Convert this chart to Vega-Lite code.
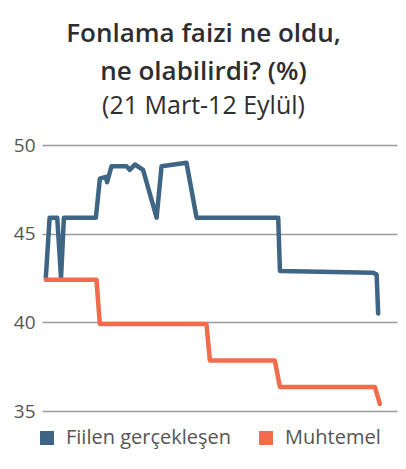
{
  "$schema": "https://vega.github.io/schema/vega-lite/v6.json",
  "width": 355,
  "height": 266,
  "autosize": "none",
  "padding": {"left": 42, "top": 145, "right": 9, "bottom": 58},
  "background": "white",
  "title": {
    "text": ["Fonlama faizi ne oldu,", "ne olabilirdi? (%)"],
    "subtitle": "(21 Mart-12 Eylül)",
    "anchor": "middle",
    "dx": -16,
    "offset": 17,
    "font": "Open Sans",
    "fontSize": 26,
    "fontWeight": 600,
    "color": "#2e2e2e",
    "lineHeight": 38,
    "subtitleFont": "Open Sans",
    "subtitleFontSize": 25,
    "subtitleFontWeight": "normal",
    "subtitleColor": "#2e2e2e",
    "subtitleLineHeight": 30,
    "subtitlePadding": 9
  },
  "data": {
    "values": [
      {"gun": 0, "oran": 42.5, "seri": "Fiilen gerçekleşen"},
      {"gun": 2, "oran": 45.9, "seri": "Fiilen gerçekleşen"},
      {"gun": 6, "oran": 45.9, "seri": "Fiilen gerçekleşen"},
      {"gun": 8, "oran": 42.5, "seri": "Fiilen gerçekleşen"},
      {"gun": 9.5, "oran": 45.9, "seri": "Fiilen gerçekleşen"},
      {"gun": 26.3, "oran": 45.9, "seri": "Fiilen gerçekleşen"},
      {"gun": 28.4, "oran": 48.1, "seri": "Fiilen gerçekleşen"},
      {"gun": 31.5, "oran": 48.2, "seri": "Fiilen gerçekleşen"},
      {"gun": 32.2, "oran": 47.9, "seri": "Fiilen gerçekleşen"},
      {"gun": 34.5, "oran": 48.8, "seri": "Fiilen gerçekleşen"},
      {"gun": 42.4, "oran": 48.8, "seri": "Fiilen gerçekleşen"},
      {"gun": 44.1, "oran": 48.6, "seri": "Fiilen gerçekleşen"},
      {"gun": 46.8, "oran": 48.9, "seri": "Fiilen gerçekleşen"},
      {"gun": 51.1, "oran": 48.6, "seri": "Fiilen gerçekleşen"},
      {"gun": 58.2, "oran": 45.9, "seri": "Fiilen gerçekleşen"},
      {"gun": 60.8, "oran": 48.8, "seri": "Fiilen gerçekleşen"},
      {"gun": 73.9, "oran": 49.0, "seri": "Fiilen gerçekleşen"},
      {"gun": 79.2, "oran": 45.9, "seri": "Fiilen gerçekleşen"},
      {"gun": 122.1, "oran": 45.9, "seri": "Fiilen gerçekleşen"},
      {"gun": 123, "oran": 42.9, "seri": "Fiilen gerçekleşen"},
      {"gun": 172, "oran": 42.8, "seri": "Fiilen gerçekleşen"},
      {"gun": 173.8, "oran": 42.7, "seri": "Fiilen gerçekleşen"},
      {"gun": 174.6, "oran": 40.5, "seri": "Fiilen gerçekleşen"},
      {"gun": 0, "oran": 42.4, "seri": "Muhtemel"},
      {"gun": 26.6, "oran": 42.4, "seri": "Muhtemel"},
      {"gun": 28.4, "oran": 39.9, "seri": "Muhtemel"},
      {"gun": 84.4, "oran": 39.9, "seri": "Muhtemel"},
      {"gun": 86.2, "oran": 37.85, "seri": "Muhtemel"},
      {"gun": 120.3, "oran": 37.85, "seri": "Muhtemel"},
      {"gun": 123, "oran": 36.35, "seri": "Muhtemel"},
      {"gun": 172.9, "oran": 36.35, "seri": "Muhtemel"},
      {"gun": 175.5, "oran": 35.4, "seri": "Muhtemel"}
    ]
  },
  "mark": {"type": "line", "strokeWidth": 4.5, "strokeJoin": "round", "strokeCap": "round"},
  "encoding": {
    "x": {
      "field": "gun",
      "type": "quantitative",
      "scale": {"domain": [-2, 184.5], "nice": false, "zero": false},
      "axis": null
    },
    "y": {
      "field": "oran",
      "type": "quantitative",
      "scale": {"domain": [35, 50], "nice": false, "zero": false},
      "axis": {
        "values": [35, 40, 45, 50],
        "title": null,
        "domain": false,
        "ticks": false,
        "grid": true,
        "gridColor": "#9a9a9a",
        "gridWidth": 1.5,
        "labelFont": "Open Sans",
        "labelFontSize": 19,
        "labelColor": "#555555",
        "labelPadding": 7
      }
    },
    "color": {
      "field": "seri",
      "type": "nominal",
      "sort": ["Fiilen gerçekleşen", "Muhtemel"],
      "scale": {"domain": ["Fiilen gerçekleşen", "Muhtemel"], "range": ["#3f6584", "#f26b4b"]},
      "legend": {
        "title": null,
        "orient": "none",
        "legendX": -5,
        "legendY": 283,
        "direction": "horizontal",
        "symbolType": "square",
        "symbolSize": 196,
        "symbolStrokeWidth": 0,
        "labelFont": "Open Sans",
        "labelFontSize": 20,
        "labelLimit": 400,
        "labelColor": "#555555",
        "labelOffset": 9,
        "columnPadding": 24,
        "encode": {"symbols": {"update": {"fill": {"scale": "color", "field": "value"}, "strokeWidth": {"value": 0}}}}
      }
    }
  },
  "config": {"view": {"stroke": null}}
}
